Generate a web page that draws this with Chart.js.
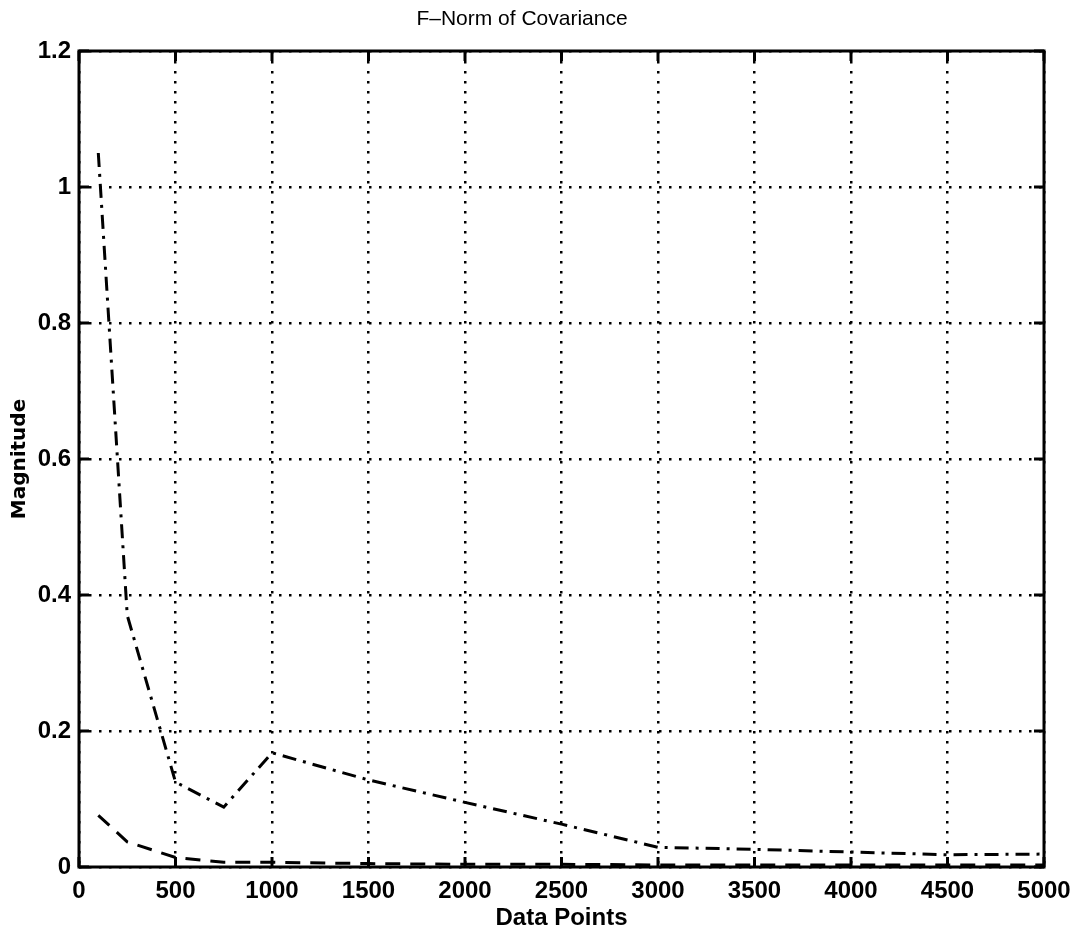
<!DOCTYPE html>
<html>
<head>
<meta charset="utf-8">
<script src="https://cdn.jsdelivr.net/npm/chart.js@4"></script>
<style>
  html, body { margin: 0; padding: 0; background: #fff; }
  #wrap { width: 1077px; height: 936px; }
</style>
</head>
<body>
<div id="wrap"><canvas id="c" width="1077" height="936"></canvas></div>
<script>
// ---- data ----
const dataPoints = [100, 250, 500, 750, 1000, 1500, 2000, 2500, 3000, 3500, 4000, 4500, 5000];
const dashDotSeries = [1.05, 0.37, 0.125, 0.088, 0.168, 0.128, 0.095, 0.063, 0.029, 0.026, 0.022, 0.018, 0.019];
const dashedSeries  = [0.076, 0.037, 0.014, 0.007, 0.007, 0.005, 0.004, 0.004, 0.003, 0.003, 0.003, 0.003, 0.003];
const xTickLabels = ['0', '500', '1000', '1500', '2000', '2500', '3000', '3500', '4000', '4500', '5000'];
const yTickLabels = ['0', '0.2', '0.4', '0.6', '0.8', '1', '1.2'];
const titleText = 'F\u2013Norm of Covariance';
const xTitle = 'Data Points';
const yTitle = 'Magnitude';

const toXY = (xs, ys) => xs.map((x, i) => ({ x: x, y: ys[i] }));
const FONT = "'Liberation Sans', Arial, Helvetica, sans-serif";

// frame + inward tick marks drawn through the chart's scales
const framePlugin = {
  id: 'frame',
  afterDatasetsDraw(chart) {
    const { ctx, chartArea: a, scales } = chart;
    const xs = scales.x, ys = scales.y;
    const L = 10;
    ctx.save();
    ctx.strokeStyle = '#000';
    ctx.lineWidth = 3;
    ctx.beginPath();
    xs.ticks.forEach(t => {
      const px = xs.getPixelForValue(t.value);
      ctx.moveTo(px, a.bottom); ctx.lineTo(px, a.bottom - L);
      ctx.moveTo(px, a.top); ctx.lineTo(px, a.top + L);
    });
    ys.ticks.forEach(t => {
      const py = ys.getPixelForValue(t.value);
      ctx.moveTo(a.left, py); ctx.lineTo(a.left + L, py);
      ctx.moveTo(a.right, py); ctx.lineTo(a.right - L, py);
    });
    ctx.stroke();
    ctx.strokeRect(a.left, a.top, a.right - a.left, a.bottom - a.top);
    ctx.restore();
  }
};

new Chart(document.getElementById('c'), {
  type: 'line',
  data: {
    datasets: [
      {
        data: toXY(dataPoints, dashDotSeries),
        borderColor: '#000',
        borderWidth: 3,
        borderDash: [14, 7, 3, 7],
        pointRadius: 0,
        tension: 0,
        fill: false
      },
      {
        data: toXY(dataPoints, dashedSeries),
        borderColor: '#000',
        borderWidth: 3,
        borderDash: [15, 10],
        pointRadius: 0,
        tension: 0,
        fill: false
      }
    ]
  },
  options: {
    responsive: false,
    animation: false,
    devicePixelRatio: 1,
    layout: { padding: { left: 0, right: 33, top: 0, bottom: 0 } },
    plugins: {
      legend: { display: false },
      tooltip: { enabled: false },
      title: {
        display: true,
        text: titleText,
        color: '#000',
        font: { family: FONT, size: 21, weight: 'normal', lineHeight: 1.2 },
        padding: { top: 7, bottom: 18.8 }
      }
    },
    scales: {
      x: {
        type: 'linear',
        min: 0, max: 5000,
        afterBuildTicks(scale) {
          scale.ticks = xTickLabels.map(v => ({ value: Number(v) }));
        },
        afterFit(scale) { scale.height = 69; scale.paddingRight = 0; scale.paddingLeft = 0; },
        border: { display: false, dash: [2.5, 7.5] },
        grid: {
          color: '#000',
          lineWidth: 2.5,
          drawTicks: false
        },
        ticks: {
          color: '#000',
          padding: 10,
          maxRotation: 0,
          autoSkip: false,
          font: { family: FONT, size: 24, weight: 'bold' },
          callback: (v, i) => xTickLabels[i]
        },
        title: {
          display: true,
          text: xTitle,
          color: '#000',
          font: { family: FONT, size: 24, weight: 'bold', lineHeight: 1.2 },
          padding: { top: 0, bottom: 3 }
        }
      },
      y: {
        type: 'linear',
        min: 0, max: 1.2,
        afterBuildTicks(scale) {
          scale.ticks = yTickLabels.map(v => ({ value: Number(v) }));
        },
        afterFit(scale) { scale.width = 79; },
        border: { display: false, dash: [2.5, 7.5] },
        grid: {
          color: '#000',
          lineWidth: 2.5,
          drawTicks: false
        },
        ticks: {
          color: '#000',
          padding: 8,
          autoSkip: false,
          font: { family: FONT, size: 24, weight: 'bold' },
          callback: (v, i) => yTickLabels[i]
        },
        title: {
          display: true,
          text: yTitle,
          color: '#000',
          font: { family: "'DejaVu Sans', sans-serif", size: 20, weight: 'bold', lineHeight: 1.2 },
          padding: { top: 8, bottom: 0 }
        }
      }
    }
  },
  plugins: [framePlugin]
});
</script>
</body>
</html>
